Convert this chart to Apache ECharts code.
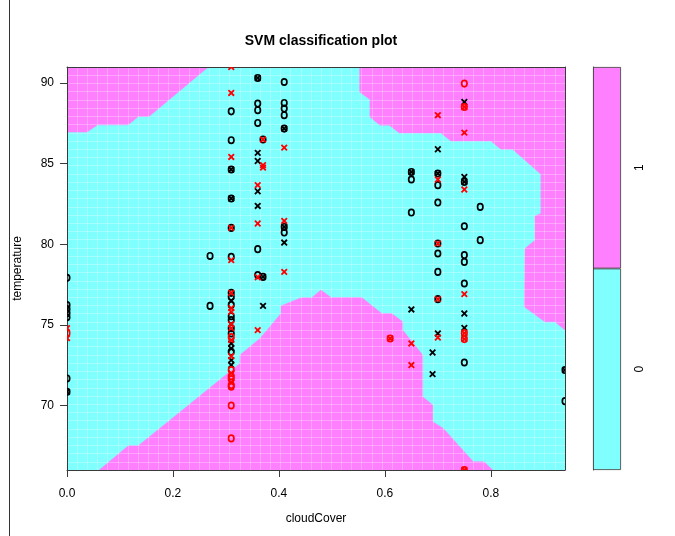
<!DOCTYPE html>
<html><head><meta charset="utf-8">
<script src="https://cdn.jsdelivr.net/npm/echarts@6/dist/echarts.min.js"></script>
<style>html,body{margin:0;padding:0;background:#fff}#c{width:675px;height:536px}</style>
</head><body><div id="c"></div>
<script>
// ---- data ----
const xRange = [0, 0.94];
const yRange = [66, 91];
const xTicks = [0, 0.2, 0.4, 0.6, 0.8];
const yTicks = [70, 75, 80, 85, 90];
const classLabels = ['0', '1'];
const gridCount = 50;

// decision regions of class 1 (magenta); rest is class 0 (cyan)
const regionTopLeft = [[0,91],[0,86.96],[0.0378,86.96],[0.0579,87.41],[0.1157,87.41],[0.1346,87.93],[0.1548,87.93],[0.2667,91]];
const regionTopRight = [[0.5524,91],[0.5524,89.45],[0.5718,88.98],[0.5718,87.9],[0.5907,87.39],[0.6084,87.39],[0.6273,86.91],[0.7058,86.91],[0.7246,86.41],[0.8001,86.41],[0.819,85.9],[0.8411,85.9],[0.8945,84.35],[0.8945,81.91],[0.8834,81.76],[0.8834,80.26],[0.8645,79.74],[0.8632,76.12],[0.9022,75.19],[0.921,75.19],[0.94,74.69],[0.94,91]];
const regionBottom = [[0.061,66],[0.1157,67.5],[0.1346,67.5],[0.3265,72.61],[0.3265,73.13],[0.3643,74.16],[0.4039,75.71],[0.4039,76.18],[0.4417,76.68],[0.4619,76.68],[0.4794,77.16],[0.4983,76.7],[0.5562,76.7],[0.594,75.71],[0.6129,75.71],[0.6336,75.19],[0.6336,74.68],[0.6714,73.13],[0.6714,70.54],[0.6903,70.03],[0.6903,69.0],[0.7103,68.58],[0.7669,66.51],[0.7871,66.51],[0.8035,66]];

// points: [cloudCover, temperature]
const blackO = [
 [0,77.92],[0,76.23],[0,75.98],[0,75.73],[0,75.48],[0,71.68],[0,70.85],
 [0.27,79.28],[0.27,76.18],
 [0.31,88.25],[0.31,86.46],[0.31,84.64],[0.31,82.84],[0.31,81.02],[0.31,79.22],[0.31,76.99],[0.31,76.74],[0.31,76.24],[0.31,75.54],[0.31,75.3],[0.31,74.8],[0.31,74.47],[0.31,73.33],
 [0.36,90.32],[0.36,88.73],[0.36,88.32],[0.36,87.53],[0.36,79.7],[0.36,78.09],
 [0.37,86.5],[0.37,77.98],
 [0.41,90.07],[0.41,88.77],[0.41,88.42],[0.41,88.01],[0.41,87.18],[0.41,81.08],[0.41,80.73],
 [0.65,84.49],[0.65,84.02],[0.65,81.97],
 [0.70,84.39],[0.70,83.67],[0.70,82.59],[0.70,80.05],[0.70,79.43],[0.70,78.29],[0.70,76.6],
 [0.75,83.87],[0.75,81.12],[0.75,79.33],[0.75,78.91],[0.75,77.57],[0.75,72.67],
 [0.78,82.32],[0.78,80.26],
 [0.94,72.2],[0.94,70.27]
];
const blackX = [
 [0,70.85],
 [0.31,84.64],[0.31,82.84],[0.31,76.49],[0.31,73.85],[0.31,73.54],[0.31,72.82],[0.31,72.51],
 [0.36,90.32],[0.36,85.67],[0.36,85.17],[0.36,83.29],[0.36,82.38],
 [0.37,77.98],[0.37,76.18],
 [0.41,87.18],[0.41,81.08],[0.41,80.11],
 [0.65,84.49],[0.65,75.96],
 [0.70,85.9],[0.70,84.39],[0.70,74.47],[0.69,73.29],[0.69,71.95],
 [0.75,88.83],[0.75,84.18],[0.75,83.87],[0.75,75.71],[0.75,74.82],
 [0.94,72.2]
];
const redO = [
 [0,74.49],
 [0.31,74.24],[0.31,72.2],[0.31,71.82],[0.31,71.64],[0.31,71.27],[0.31,71.16],[0.31,70.0],[0.31,67.96],
 [0.61,74.16],
 [0.75,89.97],[0.75,88.52],[0.75,74.49],[0.75,74.12],[0.75,66.0]
];
const redX = [
 [0,74.8],[0,74.18],
 [0.31,91.0],[0.31,89.39],[0.31,85.42],[0.31,81.02],[0.31,79.02],[0.31,76.99],[0.31,76.04],[0.31,75.81],[0.31,75.05],[0.31,74.8],[0.31,74.06],[0.31,73.06],[0.31,72.01],[0.31,71.45],
 [0.36,83.67],[0.36,81.29],[0.36,77.96],[0.36,74.68],
 [0.37,86.5],[0.37,84.91],[0.37,84.76],
 [0.41,86.0],[0.41,81.45],[0.41,78.29],
 [0.61,74.16],
 [0.65,73.85],[0.65,72.51],
 [0.70,88.01],[0.70,84.02],[0.70,80.05],[0.70,76.6],[0.70,74.22],
 [0.75,88.52],[0.75,86.93],[0.75,83.4],[0.75,76.91],[0.75,74.49],[0.75,74.12],[0.75,66.0]
];

// ---- styling ----
const CYAN = '#80FFFF', MAGENTA = '#FF80FF';
const FONT = '"Liberation Sans", Arial, sans-serif';
const BOX = '#3a3a3a';

function regionSeries(verts) {
  return {
    type: 'custom', xAxisIndex: 0, yAxisIndex: 0, z: 2, silent: true, clip: true,
    data: verts,
    renderItem: function (params, api) {
      if (params.dataIndex !== 0) return null;
      const pts = verts.map(v => api.coord(v));
      return { type: 'polygon', shape: { points: pts }, style: { fill: MAGENTA, stroke: MAGENTA, lineWidth: 0.5 } };
    }
  };
}
function pointSeries(data, color, kind) {
  return {
    type: 'custom', xAxisIndex: 0, yAxisIndex: 0, z: 6, silent: true, clip: true,
    data: data,
    renderItem: function (params, api) {
      const p = api.coord([api.value(0), api.value(1)]);
      if (kind === 'o') {
        return { type: 'ellipse', shape: { cx: p[0], cy: p[1], rx: 2.7, ry: 3.2 }, style: { fill: 'none', stroke: color, lineWidth: 1.7 } };
      }
      const s = 2.8;
      return { type: 'group', children: [
        { type: 'line', shape: { x1: p[0]-s, y1: p[1]-s, x2: p[0]+s, y2: p[1]+s }, style: { stroke: color, lineWidth: 1.8 } },
        { type: 'line', shape: { x1: p[0]-s, y1: p[1]+s, x2: p[0]+s, y2: p[1]-s }, style: { stroke: color, lineWidth: 1.8 } }
      ]};
    }
  };
}

const chart = echarts.init(document.getElementById('c'), null, { renderer: 'canvas' });
chart.setOption({
  backgroundColor: '#ffffff',
  animation: false,
  title: {
    text: 'SVM classification plot', left: 316, top: 29, textAlign: 'center',
    textStyle: { fontFamily: FONT, fontSize: 14, fontWeight: 'bold', color: '#000' }
  },
  graphic: [{ type: 'line', shape: { x1: 9.5, y1: 0, x2: 9.5, y2: 536 }, style: { stroke: '#333', lineWidth: 1 }, silent: true }],
  grid: [
    { left: 67, right: 110, top: 67, bottom: 66, show: true, backgroundColor: CYAN, borderWidth: 0 },
    { left: 593, right: 54, top: 67, bottom: 66, show: false }
  ],
  xAxis: [
    { gridIndex: 0, type: 'value', min: xRange[0], max: xRange[1], position: 'bottom',
      name: 'cloudCover', nameLocation: 'middle', nameGap: 43,
      nameTextStyle: { fontFamily: FONT, fontSize: 12, color: '#000' },
      axisLine: { show: true, onZero: false, lineStyle: { color: BOX, width: 1 } },
      axisTick: { show: true, length: 7, lineStyle: { color: BOX }, customValues: xTicks },
      axisLabel: { fontFamily: FONT, fontSize: 12, color: '#000', margin: 18, customValues: xTicks, formatter: v => v.toFixed(1) },
      splitLine: { show: false }, z: 4 },
    { gridIndex: 0, type: 'value', min: xRange[0], max: xRange[1], position: 'top',
      axisLine: { show: true, onZero: false, lineStyle: { color: BOX, width: 1 } },
      axisTick: { show: false }, axisLabel: { show: false }, splitLine: { show: false }, z: 4 },
    { gridIndex: 0, type: 'value', min: xRange[0], max: xRange[1], interval: (xRange[1]-xRange[0])/(gridCount-1), position: 'bottom',
      axisLine: { show: false }, axisTick: { show: false }, axisLabel: { show: false },
      splitLine: { show: true, lineStyle: { color: 'rgba(255,255,255,0.28)', width: 1 } }, z: 3 },
    { gridIndex: 1, type: 'value', min: 0, max: 1, show: false }
  ],
  yAxis: [
    { gridIndex: 0, type: 'value', min: yRange[0], max: yRange[1], position: 'left',
      name: 'temperature', nameLocation: 'middle', nameGap: 43,
      nameTextStyle: { fontFamily: FONT, fontSize: 12, color: '#000' },
      axisLine: { show: true, onZero: false, lineStyle: { color: BOX, width: 1 } },
      axisTick: { show: true, length: 7, lineStyle: { color: BOX }, customValues: yTicks },
      axisLabel: { fontFamily: FONT, fontSize: 12, color: '#000', margin: 13, customValues: yTicks },
      splitLine: { show: false }, z: 4 },
    { gridIndex: 0, type: 'value', min: yRange[0], max: yRange[1], position: 'right',
      axisLine: { show: true, onZero: false, lineStyle: { color: BOX, width: 1 } },
      axisTick: { show: false }, axisLabel: { show: false }, splitLine: { show: false }, z: 4 },
    { gridIndex: 0, type: 'value', min: yRange[0], max: yRange[1], interval: (yRange[1]-yRange[0])/(gridCount-1), position: 'left',
      axisLine: { show: false }, axisTick: { show: false }, axisLabel: { show: false },
      splitLine: { show: true, lineStyle: { color: 'rgba(255,255,255,0.28)', width: 1 } }, z: 3 },
    { gridIndex: 1, type: 'category', data: classLabels, position: 'right',
      axisLine: { show: true, lineStyle: { color: BOX } },
      axisTick: { show: true, length: 6, alignWithLabel: true, lineStyle: { color: BOX } },
      axisLabel: { fontFamily: FONT, fontSize: 12, color: '#000', rotate: 90, margin: 13 } }
  ],
  series: [
    regionSeries(regionTopLeft),
    regionSeries(regionTopRight),
    regionSeries(regionBottom),
    pointSeries(blackO, '#000000', 'o'),
    pointSeries(blackX, '#000000', 'x'),
    pointSeries(redO, '#FF0000', 'o'),
    pointSeries(redX, '#FF0000', 'x'),
    { type: 'bar', xAxisIndex: 3, yAxisIndex: 3, barWidth: '100%', silent: true,
      data: classLabels.map((c, i) => ({ value: 1, itemStyle: { color: i === 0 ? CYAN : MAGENTA, borderColor: BOX, borderWidth: 0.8 } })) }
  ]
});
</script>
</body></html>
